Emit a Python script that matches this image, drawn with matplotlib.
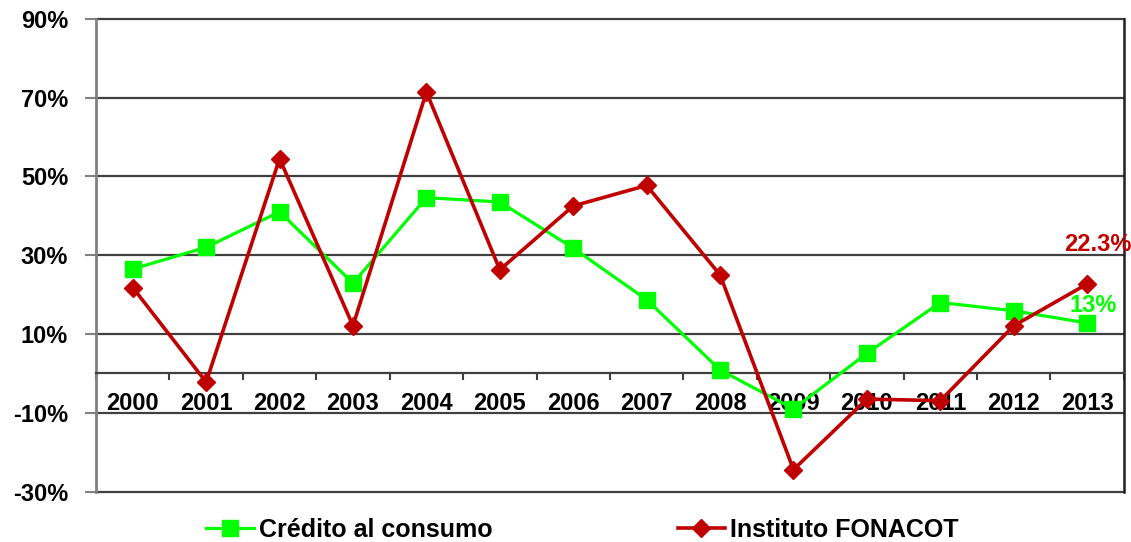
import matplotlib.pyplot as plt
from matplotlib.ticker import FixedLocator, PercentFormatter

plt.rcParams['font.family'] = ['Liberation Sans', 'DejaVu Sans']
plt.rcParams['font.weight'] = 'bold'
plt.rcParams['axes.unicode_minus'] = False

# Data (annual growth, %)
years = ['2000', '2001', '2002', '2003', '2004', '2005', '2006',
         '2007', '2008', '2009', '2010', '2011', '2012', '2013']
credito_consumo = [26.5, 32.0, 41.0, 22.9, 44.6, 43.5, 31.8,
                   18.7, 0.9, -9.0, 5.1, 18.0, 15.9, 12.8]
fonacot = [21.8, -2.2, 54.5, 12.1, 71.4, 26.3, 42.5,
           47.7, 25.0, -24.4, -6.5, -6.9, 12.1, 22.7]
y_ticks = [-30, -10, 10, 30, 50, 70, 90]

green = '#00FF00'
red = '#C00000'

fig = plt.figure(figsize=(11.31, 5.42), dpi=100)
ax = fig.add_axes([0.0849, 0.0928, 0.9088, 0.8727])

x = list(range(len(years)))

# Grid lines every 20%
for v in y_ticks:
    ax.axhline(v, color='#404040', linewidth=1.6, zorder=1, clip_on=False)

ax.plot(x, credito_consumo, color=green, linewidth=2.3, marker='s',
        markersize=11, label='Crédito al consumo', zorder=3)
ax.plot(x, fonacot, color=red, linewidth=2.6, marker='D',
        markersize=9, label='Instituto FONACOT', zorder=4)

# Labels for the last values
ax.text(13.14, 32.8, '22.3%', color=red, fontsize=17, fontweight='bold',
        ha='center', va='center')
ax.text(13.08, 17.2, '13%', color=green, fontsize=17, fontweight='bold',
        ha='center', va='center')

ax.set_xlim(-0.5, len(years) - 0.5)
ax.set_ylim(-30, 90)

# x axis drawn along the zero line
ax.spines['bottom'].set_position(('data', 0))
ax.spines['bottom'].set_color('#404040')
ax.spines['bottom'].set_linewidth(1.6)
ax.spines['left'].set_color('#808080')
ax.spines['left'].set_linewidth(2)
ax.spines['top'].set_visible(False)
ax.spines['right'].set_color('#202020')
ax.spines['right'].set_linewidth(1.8)

ax.set_xticks(x)
ax.set_xticklabels(years, fontsize=17, fontweight='bold')
ax.tick_params(axis='x', which='major', length=0, pad=13)
ax.xaxis.set_minor_locator(FixedLocator([i - 0.5 for i in range(len(years) + 1)]))
ax.tick_params(axis='x', which='minor', length=5, width=1.5,
               color='#404040', direction='out')

ax.set_yticks(y_ticks)
ax.yaxis.set_major_formatter(PercentFormatter(decimals=0))
ax.tick_params(axis='y', length=8, width=1.5, color='#808080', pad=12,
               labelsize=17)
for lbl in ax.get_yticklabels():
    lbl.set_fontweight('bold')

fig.legend(loc='center', bbox_to_anchor=(0.515, 0.022), ncol=2, frameon=False,
           prop={'size': 18, 'weight': 'bold'}, handlelength=1.9,
           handletextpad=0.2, columnspacing=7.4)

fig.savefig('out.png', dpi=100)
